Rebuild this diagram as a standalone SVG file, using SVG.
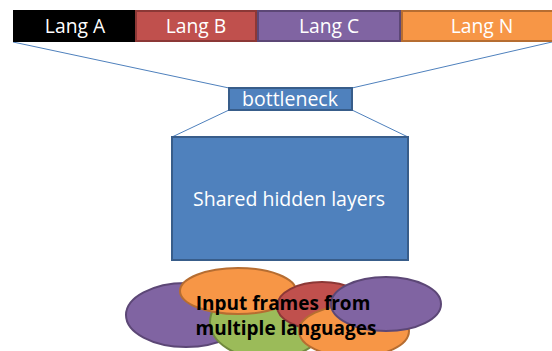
<svg xmlns="http://www.w3.org/2000/svg" width="552" height="351" viewBox="0 0 552 351">
<style>
.lbl{font-family:"Open Sans","Liberation Sans",sans-serif;fill:#fff;text-anchor:middle}
.in{font-family:"Open Sans","Liberation Sans",sans-serif;font-weight:bold;fill:#000;text-anchor:middle;font-size:19px}
.conn{stroke:#4F81BD;stroke-width:1;fill:none}
.blue{fill:#4F81BD;stroke:#385D8A;stroke-width:2}
.red{fill:#C0504D;stroke:#8C3836;stroke-width:2}
.purple{fill:#8064A2;stroke:#5C4776;stroke-width:2}
.orange{fill:#F79646;stroke:#B66D31;stroke-width:2}
.green{fill:#9BBB59;stroke:#71893F;stroke-width:2}
</style>
<rect width="552" height="351" fill="#fff"/>
<g id="connectors">
<line class="conn" x1="13" y1="42" x2="229" y2="88"/>
<line class="conn" x1="552" y1="42" x2="352" y2="88"/>
<line class="conn" x1="229" y1="110" x2="172" y2="137"/>
<line class="conn" x1="352" y1="110" x2="408" y2="137"/>
</g>
<g id="langA"><rect x="13" y="10" width="122" height="32" fill="#000"/><text class="lbl" x="75" y="33" font-size="19.3">Lang A</text></g>
<g id="langB"><rect x="136" y="11" width="120" height="30" class="red"/><text class="lbl" x="196" y="33" font-size="19.3">Lang B</text></g>
<g id="langC"><rect x="258" y="11" width="142" height="30" class="purple"/><text class="lbl" x="329" y="33" font-size="19.3">Lang C</text></g>
<g id="langN"><rect x="402" y="11" width="152" height="30" class="orange"/><text class="lbl" x="482" y="33" font-size="19.3">Lang N</text></g>
<g id="bottleneck"><rect x="229" y="88" width="123" height="22" class="blue"/><text class="lbl" x="290" y="106" font-size="19.5">bottleneck</text></g>
<g id="shared"><rect x="172" y="137" width="236" height="123" class="blue"/><text class="lbl" x="289" y="206" font-size="19.5">Shared hidden layers</text></g>
<g id="inputs">
<ellipse class="purple" cx="186" cy="315" rx="60" ry="32"/>
<ellipse class="green" cx="268" cy="322" rx="58" ry="37"/>
<ellipse class="orange" cx="238" cy="291" rx="58" ry="23"/>
<ellipse class="red" cx="322" cy="306" rx="45" ry="24"/>
<ellipse class="orange" cx="354" cy="331" rx="55" ry="26"/>
<ellipse class="purple" cx="386" cy="304" rx="55" ry="27"/>
<text class="in" x="283" y="310">Input frames from</text>
<text class="in" x="286" y="335">multiple languages</text>
</g>
</svg>
